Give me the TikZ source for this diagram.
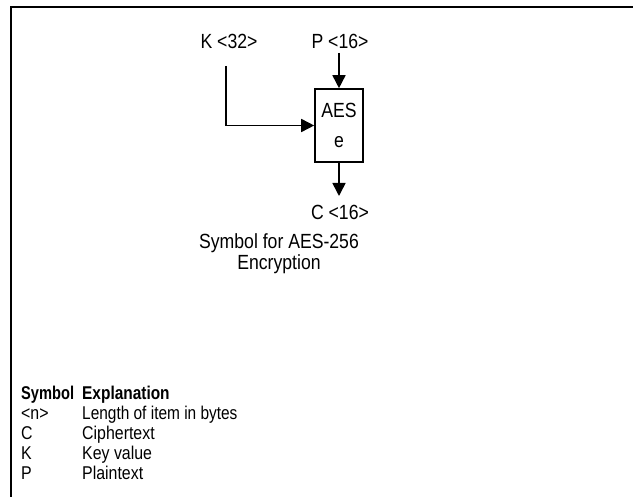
\documentclass[tikz,border=0pt]{standalone}
\usepackage{fontspec}
\usepackage{graphicx}
\setmainfont{Liberation Sans}[FakeStretch=0.86]
\usetikzlibrary{arrows.meta}
\begin{document}
\begin{tikzpicture}[x=1pt,y=-1pt,
  frame/.style={line width=2pt},
  conn/.style={line width=1.6pt},
  arr/.style={conn,-{Triangle[length=13pt,width=13pt]}},
  dtxt/.style={inner sep=0pt,font=\fontsize{20.5}{24}\selectfont},
  txt/.style={inner sep=0pt,font=\fontsize{18.5}{21}\selectfont},
  bold/.style={txt,font=\fontsize{18.5}{21}\selectfont\bfseries}]
\useasboundingbox (0,0) rectangle (633,497);
\fill[white] (0,0) rectangle (633,497);
% frame
\coordinate (ftr) at (633,7);
\coordinate (ftl) at (11,7);
\coordinate (fbl) at (11,497);
\draw[frame] (ftr) -- (ftl) -- (fbl);
% inputs
\node[dtxt,anchor=base] (K) at (229,49) {K <32>};
\node[dtxt,anchor=base] (P) at (340,49) {P <16>};
\node[draw,line width=1.6pt,minimum width=48pt,minimum height=73pt,inner sep=0pt,
      align=center,font=\fontsize{20.5}{24}\selectfont] (aes) at (339,125.5) {AES\\[6pt]e};
\coordinate (kstart) at (226,66);
\coordinate (pstart) at (339,53);
\coordinate (cend) at (339,196);
\draw[arr] (kstart) |- (aes.west);
\draw[arr] (pstart) -- (aes.north);
\draw[arr] (aes.south) -- (cend);
\node[dtxt,anchor=base] (C) at (340,220) {C <16>};
\node[dtxt,anchor=base] (cap1) at (279,249) {Symbol for AES-256};
\node[dtxt,anchor=base] (cap2) at (279,270) {Encryption};
% table
\node[bold,anchor=base west] (h1) at (21,399.5) {\scalebox{0.92}[1]{Symbol}};
\node[bold,anchor=base west] (h2) at (82,399.5) {\scalebox{0.97}[1]{Explanation}};
\node[txt,anchor=base west] (s1) at (21,419.5) {<n>};
\node[txt,anchor=base west] (e1) at (82,419.5) {\scalebox{0.97}[1]{Length of item in bytes}};
\node[txt,anchor=base west] (s2) at (21,439.5) {C};
\node[txt,anchor=base west] (e2) at (82,439.5) {Ciphertext};
\node[txt,anchor=base west] (s3) at (21,459.5) {K};
\node[txt,anchor=base west] (e3) at (82,459.5) {Key value};
\node[txt,anchor=base west] (s4) at (21,479.5) {P};
\node[txt,anchor=base west] (e4) at (82,479.5) {Plaintext};
\end{tikzpicture}
\end{document}
